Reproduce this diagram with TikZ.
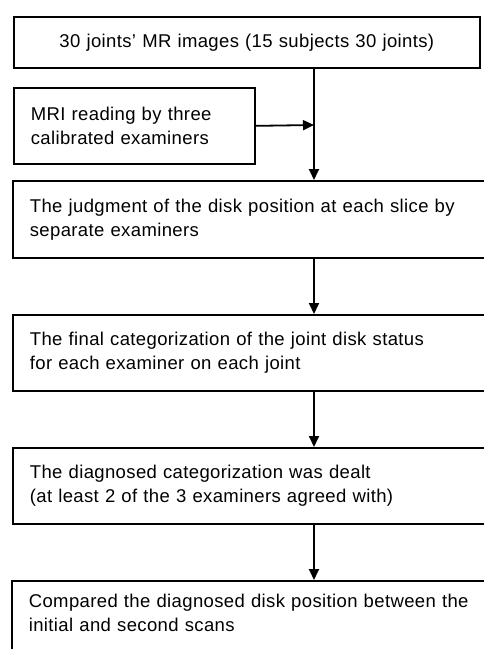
\documentclass[tikz,border=0pt]{standalone}
\usepackage{fontspec}
\setmainfont[LetterSpace=2]{Liberation Sans}
\usetikzlibrary{arrows.meta}
\begin{document}
\begin{tikzpicture}[x=1pt,y=-1pt,
  box/.style={draw, line width=1.7pt, rectangle, anchor=north west, inner xsep=17pt, inner ysep=0pt, align=left, font=\fontsize{18.5}{24}\selectfont},
  flow/.style={line width=1.8pt, -{Triangle[length=11pt,width=10pt]}}]
\useasboundingbox (0,0) rectangle (484,649);
\clip (0,0) rectangle (484,649);
\fill[white] (0,0) rectangle (484,649);
\node[box, align=center, minimum width=466pt, minimum height=51pt, text width=432pt] (n1) at (13,16) {30 joints' MR images (15 subjects 30 joints)};
\node[box, minimum width=241pt, minimum height=76pt, text width=207pt] (n2) at (13,87) {MRI reading by three\\calibrated examiners};
\node[box, minimum width=500pt, minimum height=77pt, text width=466pt] (n3) at (12,180) {The judgment of the disk position at each slice by\\separate examiners};
\node[box, minimum width=500pt, minimum height=76pt, text width=466pt] (n4) at (12,314) {The final categorization of the joint disk status\\for each examiner on each joint};
\node[box, minimum width=500pt, minimum height=76pt, text width=466pt] (n5) at (12,447) {The diagnosed categorization was dealt\\(at least 2 of the 3 examiners agreed with)};
\node[box, minimum width=500pt, minimum height=80pt, text width=466pt] (n6) at (11,580) {Compared the diagnosed disk position between the\\initial and second scans\\[-8pt]\mbox{}};
\coordinate (j) at (314,125);
\draw[flow] (n1.south -| j) -- (n3.north -| j);
\draw[flow] (n2.east) -- (j);
\draw[flow] (n3.south -| j) -- (n4.north -| j);
\draw[flow] (n4.south -| j) -- (n5.north -| j);
\draw[flow] (n5.south -| j) -- (n6.north -| j);
\end{tikzpicture}
\end{document}
